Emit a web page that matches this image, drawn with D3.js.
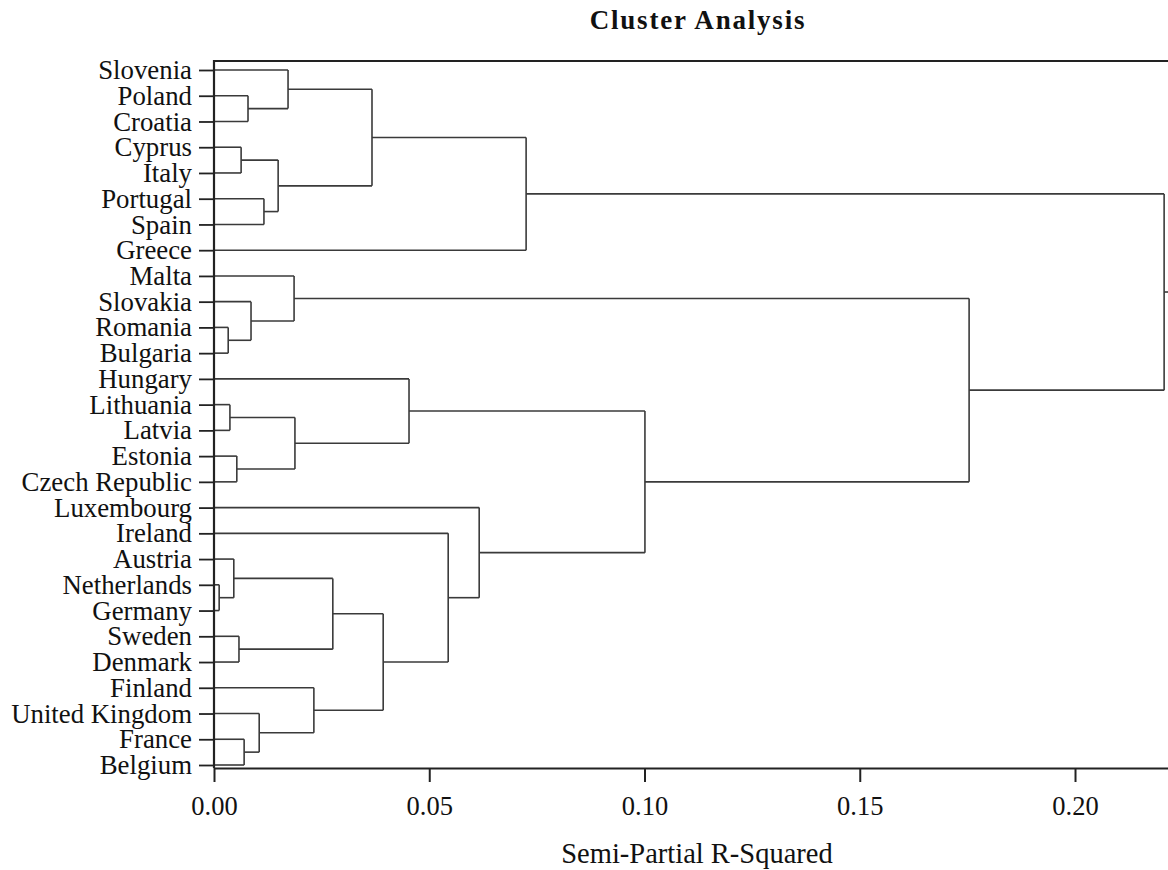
<!DOCTYPE html>
<html>
<head>
<meta charset="utf-8">
<script src="https://cdn.jsdelivr.net/npm/d3@7"></script>
<style>
  body { margin: 0; background: #fff; }
  svg { display: block; font-family: "Liberation Serif", "Times New Roman", serif; }
</style>
</head>
<body>
<svg id="chart" width="1168" height="870"></svg>
<script>
// Leaves, top to bottom
var countries = ['Slovenia', 'Poland', 'Croatia', 'Cyprus', 'Italy', 'Portugal', 'Spain', 'Greece',
  'Malta', 'Slovakia', 'Romania', 'Bulgaria', 'Hungary', 'Lithuania', 'Latvia', 'Estonia',
  'Czech Republic', 'Luxembourg', 'Ireland', 'Austria', 'Netherlands', 'Germany', 'Sweden',
  'Denmark', 'Finland', 'United Kingdom', 'France', 'Belgium'];

// Merge steps: a number refers to an earlier step, a string to a leaf
var mergeLeft  = ['Poland', 'Slovenia', 'Cyprus', 'Portugal', 2, 1, 5, 'Romania', 'Slovakia', 'Malta',
  'Lithuania', 'Estonia', 10, 'Hungary', 'Netherlands', 'Austria', 'Sweden', 15, 'France',
  'United Kingdom', 'Finland', 17, 'Ireland', 'Luxembourg', 13, 9, 6];
var mergeRight = ['Croatia', 0, 'Italy', 'Spain', 3, 4, 'Greece', 'Bulgaria', 7, 8,
  'Latvia', 'Czech Republic', 11, 12, 'Germany', 14, 'Denmark', 16, 'Belgium',
  18, 19, 20, 21, 22, 23, 24, 25];
// Semi-partial R-squared at each merge
var mergeHeight = [0.0079, 0.0172, 0.0063, 0.0116, 0.0149, 0.0367, 0.0725, 0.0033, 0.0086, 0.0186,
  0.0037, 0.0053, 0.0188, 0.0453, 0.0012, 0.0046, 0.0058, 0.0276, 0.0070, 0.0105,
  0.0232, 0.0393, 0.0544, 0.0616, 0.1001, 0.1754, 0.2207];

var xTicks = [0, 0.05, 0.10, 0.15, 0.20];

var svg = d3.select('#chart');
var plotLeft = 214, plotRight = 1168, plotTop = 61, plotBottom = 768;

// Scales
var x = d3.scaleLinear().domain([0, 0.2216]).range([plotLeft, plotRight]);
var y = d3.scalePoint().domain(countries).range([70, 765]);

// Build the tree from the merge steps
function node(ref) {
  if (typeof ref === 'string') return { name: ref, height: 0 };
  return { height: mergeHeight[ref], children: [node(mergeLeft[ref]), node(mergeRight[ref])] };
}
var root = d3.hierarchy(node(mergeHeight.length - 1));
root.eachAfter(d => {
  d.px = x(d.data.height);
  d.py = d.children ? d3.mean(d.children, c => c.py) : y(d.data.name);
});

var tree = svg.append('g')
  .attr('fill', 'none')
  .attr('stroke', '#3a3a3a')
  .attr('stroke-width', 1.6);

// Horizontal segments: each node to its parent
tree.selectAll('line.h')
  .data(root.descendants().filter(d => d.parent))
  .join('line')
    .attr('class', 'h')
    .attr('x1', d => d.px)
    .attr('x2', d => d.parent.px)
    .attr('y1', d => d.py)
    .attr('y2', d => d.py);

// Vertical segments joining the children
tree.selectAll('line.v')
  .data(root.descendants().filter(d => d.children))
  .join('line')
    .attr('class', 'v')
    .attr('x1', d => d.px)
    .attr('x2', d => d.px)
    .attr('y1', d => d3.min(d.children, c => c.py))
    .attr('y2', d => d3.max(d.children, c => c.py));

// Root stub
tree.append('line')
  .attr('x1', root.px).attr('x2', plotRight)
  .attr('y1', root.py).attr('y2', root.py);

// Left axis with leaf labels
var yAxis = svg.append('g')
  .attr('transform', 'translate(' + plotLeft + ',0)')
  .call(d3.axisLeft(y).tickSize(15).tickPadding(7));
yAxis.select('.domain').remove();
yAxis.selectAll('line').attr('stroke', '#222').attr('stroke-width', 1.8);
yAxis.selectAll('text')
  .attr('fill', '#111')
  .style('font-size', '26.8px')
  .style('font-family', '"Liberation Serif", serif');

// Bottom axis
var xAxis = svg.append('g')
  .attr('transform', 'translate(0,' + plotBottom + ')')
  .call(d3.axisBottom(x).tickValues(xTicks).tickFormat(d3.format('.2f')).tickSize(14).tickSizeOuter(0).tickPadding(14));
xAxis.select('.domain').attr('stroke', '#222').attr('stroke-width', 2.2);
xAxis.selectAll('line').attr('stroke', '#222').attr('stroke-width', 2);
xAxis.selectAll('text')
  .attr('fill', '#111')
  .style('font-size', '26.5px')
  .style('font-family', '"Liberation Serif", serif');

// Frame: left and top lines
svg.append('path')
  .attr('d', 'M' + plotRight + ',' + plotTop + 'H' + plotLeft + 'V' + plotBottom)
  .attr('fill', 'none')
  .attr('stroke', '#222')
  .attr('stroke-width', 2.2);

// Title and axis label
svg.append('text')
  .attr('x', 698).attr('y', 29)
  .attr('text-anchor', 'middle')
  .style('font-size', '27px')
  .style('font-weight', 'bold')
  .style('letter-spacing', '1.8px')
  .attr('fill', '#111')
  .text('Cluster Analysis');

svg.append('text')
  .attr('x', 697).attr('y', 863)
  .attr('text-anchor', 'middle')
  .style('font-size', '28.5px')
  .attr('fill', '#111')
  .text('Semi-Partial R-Squared');
</script>
</body>
</html>
